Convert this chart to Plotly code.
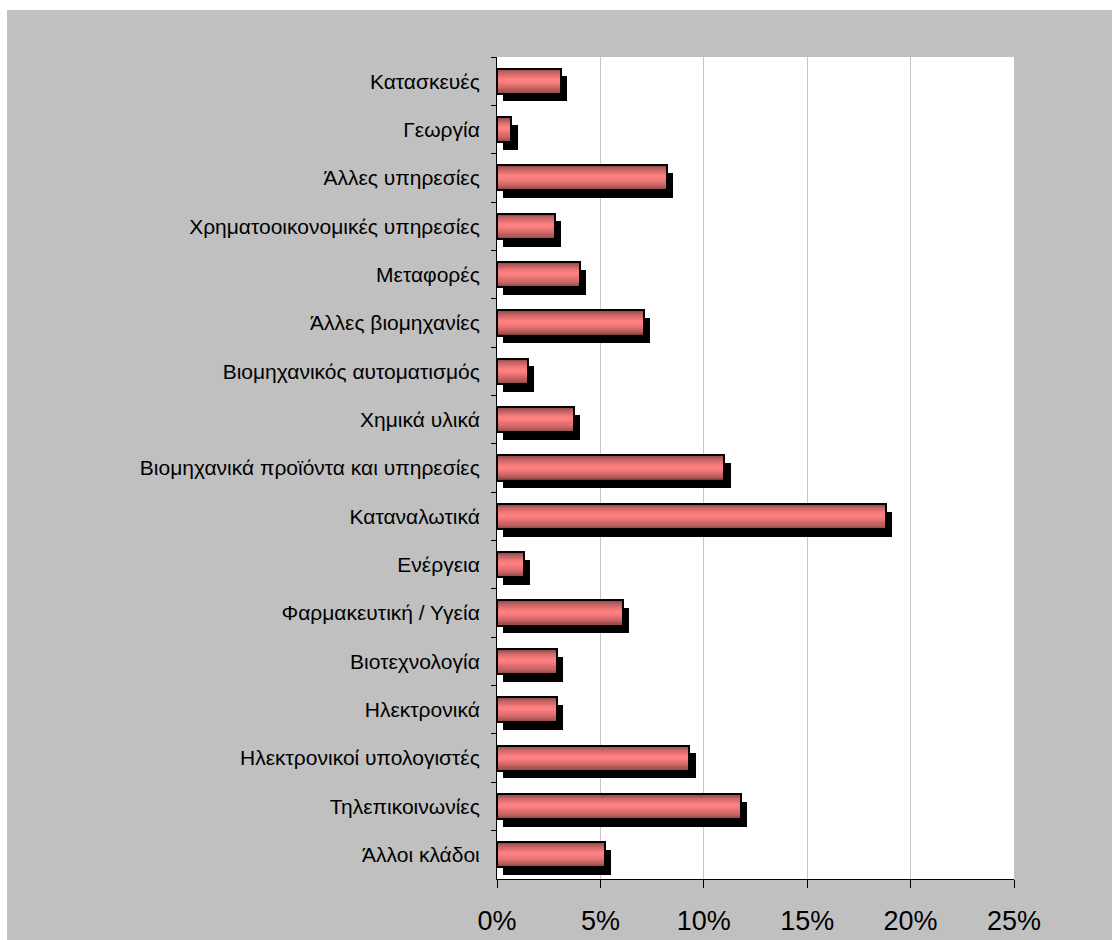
import numpy as np
import plotly.graph_objects as go

# Sector shares (percent), listed top to bottom as drawn
sectors = [
    "Κατασκευές",
    "Γεωργία",
    "Άλλες υπηρεσίες",
    "Χρηματοοικονομικές υπηρεσίες",
    "Μεταφορές",
    "Άλλες βιομηχανίες",
    "Βιομηχανικός αυτοματισμός",
    "Χημικά υλικά",
    "Βιομηχανικά προϊόντα και υπηρεσίες",
    "Καταναλωτικά",
    "Ενέργεια",
    "Φαρμακευτική / Υγεία",
    "Βιοτεχνολογία",
    "Ηλεκτρονικά",
    "Ηλεκτρονικοί υπολογιστές",
    "Τηλεπικοινωνίες",
    "Άλλοι κλάδοι",
]
shares = [3.1, 0.7, 8.2, 2.8, 4.0, 7.1, 1.5, 3.7, 11.0, 18.8,
          1.3, 6.1, 2.9, 2.9, 9.3, 11.8, 5.2]

x_ticks = [0, 5, 10, 15, 20, 25]

# Layout geometry (pixels)
W, H = 1112, 940
ML, MR, MT, MB = 497, 98, 57, 61
PW, PH = W - ML - MR, H - MT - MB

BAR_W = 0.52           # bar thickness in category units
SHADOW_DX = 0.3        # shadow shift along value axis (percent units)
SHADOW_DY = 0.16       # shadow shift along category axis (category units)

EDGE = np.array([0x7e, 0x3e, 0x3e])
CENTER = np.array([0xff, 0x80, 0x80])

fig = go.Figure()

# drop shadow
fig.add_trace(go.Bar(
    y=sectors, x=shares, base=SHADOW_DX, orientation="h",
    width=BAR_W, offset=-BAR_W / 2 + SHADOW_DY,
    marker=dict(color="black", line=dict(width=0)),
    hoverinfo="skip", showlegend=False,
))

# cylinder-like shading: nested bars from dark edge to bright centre
n_layers = 12
for k in range(n_layers):
    f = k / (n_layers - 1)
    w = BAR_W * (1 - 0.88 * f)
    t = f ** 0.6
    c = (EDGE + (CENTER - EDGE) * t).astype(int)
    fig.add_trace(go.Bar(
        y=sectors, x=shares, orientation="h",
        width=w, offset=-w / 2 - 0.02 * f,
        marker=dict(color=f"rgb({c[0]},{c[1]},{c[2]})", line=dict(width=0)),
        hoverinfo="skip", showlegend=False,
    ))

# black outline on top
fig.add_trace(go.Bar(
    y=sectors, x=shares, orientation="h",
    width=BAR_W, offset=-BAR_W / 2,
    marker=dict(color="rgba(0,0,0,0)", line=dict(color="black", width=2)),
    hovertemplate="%{y}: %{x}%<extra></extra>", showlegend=False,
))

# white strips framing the grey chart area
def px_x(px):
    return (px - ML) / PW

def px_y(py):
    return (H - MB - py) / PH

fig.add_shape(type="rect", xref="paper", yref="paper",
              x0=px_x(0), x1=px_x(W), y0=px_y(10), y1=px_y(0),
              fillcolor="white", line=dict(width=0), layer="below")
fig.add_shape(type="rect", xref="paper", yref="paper",
              x0=px_x(0), x1=px_x(7), y0=px_y(H), y1=px_y(0),
              fillcolor="white", line=dict(width=0), layer="below")

fig.update_layout(
    width=W, height=H, autosize=False,
    margin=dict(l=ML, r=MR, t=MT, b=MB, pad=0, autoexpand=False),
    paper_bgcolor="#c0c0c0",
    plot_bgcolor="white",
    barmode="overlay",
    bargap=0,
    font=dict(family="Liberation Sans, Arial, sans-serif", color="black"),
    xaxis=dict(
        range=[0, 25], tickvals=x_ticks,
        ticktext=[f"{v}%" for v in x_ticks],
        showgrid=True, gridcolor="#c8c8c8", gridwidth=1,
        zeroline=False, automargin=False,
        showline=True, linecolor="black", linewidth=1,
        ticks="outside", ticklen=8, tickcolor="black", tickwidth=1,
        tickfont=dict(size=27), ticklabelstandoff=10,
        fixedrange=True,
    ),
    yaxis=dict(
        type="category", categoryorder="array", categoryarray=sectors,
        range=[len(sectors) - 0.5, -0.5],
        tickson="boundaries", automargin=False,
        showgrid=False, zeroline=False,
        showline=True, linecolor="black", linewidth=1,
        ticks="outside", ticklen=5, tickcolor="black", tickwidth=1,
        tickfont=dict(size=21), ticklabelstandoff=12,
        fixedrange=True,
    ),
)

fig.write_html("out.html")
